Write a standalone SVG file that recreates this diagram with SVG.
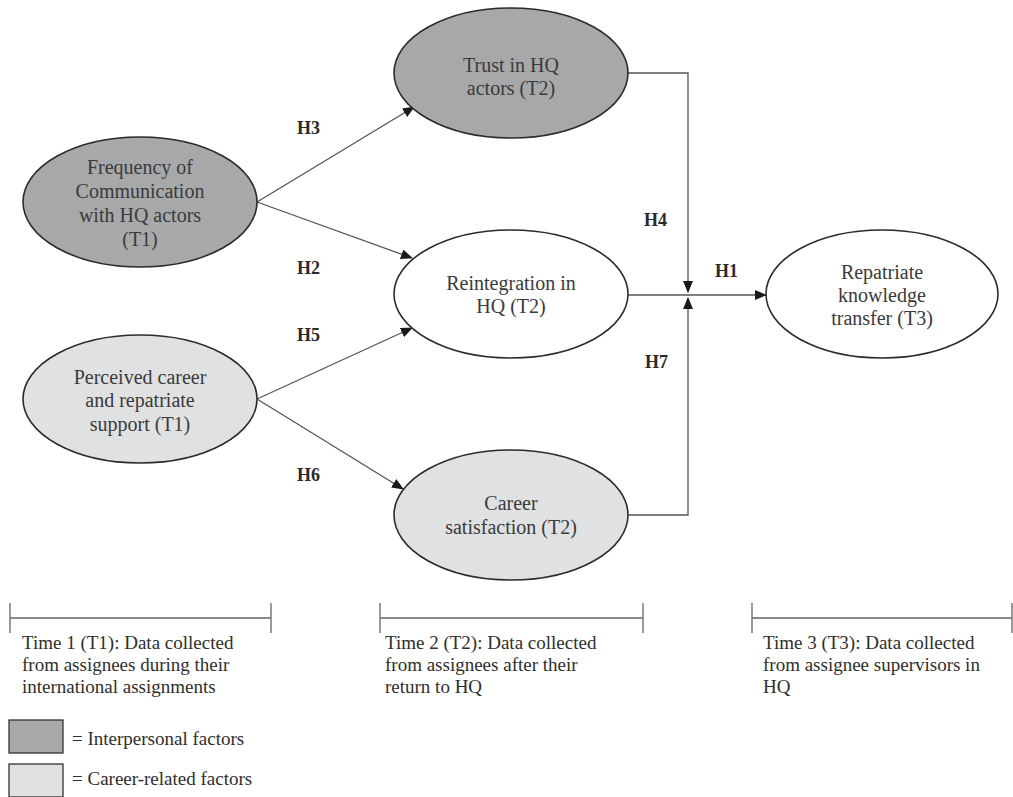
<svg xmlns="http://www.w3.org/2000/svg" width="1013" height="797" viewBox="0 0 1013 797">
<defs>
<marker id="arr" markerWidth="12" markerHeight="10" refX="11" refY="5" orient="auto" markerUnits="userSpaceOnUse">
<path d="M0,0 L12,5 L0,10 Z" fill="#1a1a1a"/>
</marker>
<style>
.node{stroke:#2b2b2b;stroke-width:1.6}
.dark{fill:#a7a8aa}
.light{fill:#e0e1e2}
.white{fill:#ffffff}
.t{font-family:"Liberation Serif","Times New Roman",serif;font-size:20px;fill:#3a3a3a;text-anchor:middle}
.h{font-family:"Liberation Serif","Times New Roman",serif;font-size:18px;font-weight:bold;fill:#2a2a2a}
.b{font-family:"Liberation Serif","Times New Roman",serif;font-size:19px;fill:#2e2e2e}
.c{fill:none;stroke:#555;stroke-width:1.3}
.br{fill:none;stroke:#666;stroke-width:1.3}
</style>
</defs>
<rect width="1013" height="797" fill="#ffffff"/>

<g id="connectors">
<line class="c" x1="257" y1="202" x2="414" y2="107" marker-end="url(#arr)"/>
<line class="c" x1="257" y1="202" x2="412" y2="258" marker-end="url(#arr)"/>
<line class="c" x1="257" y1="399" x2="412" y2="328" marker-end="url(#arr)"/>
<line class="c" x1="257" y1="399" x2="403" y2="489" marker-end="url(#arr)"/>
<path class="c" d="M628,73 H688 V292" marker-end="url(#arr)"/>
<path class="c" d="M628,515 H688 V298" marker-end="url(#arr)"/>
<path class="c" d="M628,295 H766" marker-end="url(#arr)"/>
<text class="h" x="297" y="134">H3</text>
<text class="h" x="297" y="274">H2</text>
<text class="h" x="297" y="341">H5</text>
<text class="h" x="297" y="481">H6</text>
<text class="h" x="644" y="226">H4</text>
<text class="h" x="715" y="277">H1</text>
<text class="h" x="645" y="368">H7</text>
</g>

<g id="frequency">
<ellipse class="node dark" cx="140" cy="202" rx="117" ry="65"/>
<text class="t" x="140" y="174">Frequency of</text>
<text class="t" x="140" y="198">Communication</text>
<text class="t" x="140" y="222">with HQ actors</text>
<text class="t" x="140" y="246">(T1)</text>
</g>

<g id="perceived">
<ellipse class="node light" cx="140" cy="399" rx="117" ry="64"/>
<text class="t" x="140" y="384">Perceived career</text>
<text class="t" x="140" y="407">and repatriate</text>
<text class="t" x="140" y="431">support (T1)</text>
</g>

<g id="trust">
<ellipse class="node dark" cx="511" cy="73" rx="117" ry="65"/>
<text class="t" x="511" y="72">Trust in HQ</text>
<text class="t" x="511" y="95">actors (T2)</text>
</g>

<g id="reintegration">
<ellipse class="node white" cx="511" cy="294" rx="117" ry="64"/>
<text class="t" x="511" y="290">Reintegration in</text>
<text class="t" x="511" y="313">HQ (T2)</text>
</g>

<g id="career">
<ellipse class="node light" cx="511" cy="515" rx="117" ry="65"/>
<text class="t" x="511" y="510">Career</text>
<text class="t" x="511" y="534">satisfaction (T2)</text>
</g>

<g id="repatriate">
<ellipse class="node white" cx="882" cy="294" rx="116" ry="64"/>
<text class="t" x="882" y="279">Repatriate</text>
<text class="t" x="882" y="302">knowledge</text>
<text class="t" x="882" y="325">transfer (T3)</text>
</g>

<g id="time1">
<path class="br" d="M10,603 V633 M10,618 H271 M271,603 V633"/>
<text class="b" x="22" y="649">Time 1 (T1):  Data collected</text>
<text class="b" x="22" y="671">from assignees during their</text>
<text class="b" x="22" y="693">international assignments</text>
</g>

<g id="time2">
<path class="br" d="M380,603 V633 M380,618 H643 M643,603 V633"/>
<text class="b" x="385" y="649">Time 2 (T2):  Data collected</text>
<text class="b" x="385" y="671">from assignees after their</text>
<text class="b" x="385" y="693">return to HQ</text>
</g>

<g id="time3">
<path class="br" d="M752,603 V633 M752,618 H1012 M1012,603 V633"/>
<text class="b" x="763" y="649">Time 3 (T3):  Data collected</text>
<text class="b" x="763" y="671">from assignee supervisors in</text>
<text class="b" x="763" y="693">HQ</text>
</g>

<g id="legend">
<rect class="dark" x="9" y="720" width="54" height="33" stroke="#333" stroke-width="1.3"/>
<text class="b" x="72" y="745">= Interpersonal factors</text>
<rect class="light" x="9" y="764" width="54" height="33" stroke="#333" stroke-width="1.3"/>
<text class="b" x="72" y="785">= Career-related factors</text>
</g>
</svg>
